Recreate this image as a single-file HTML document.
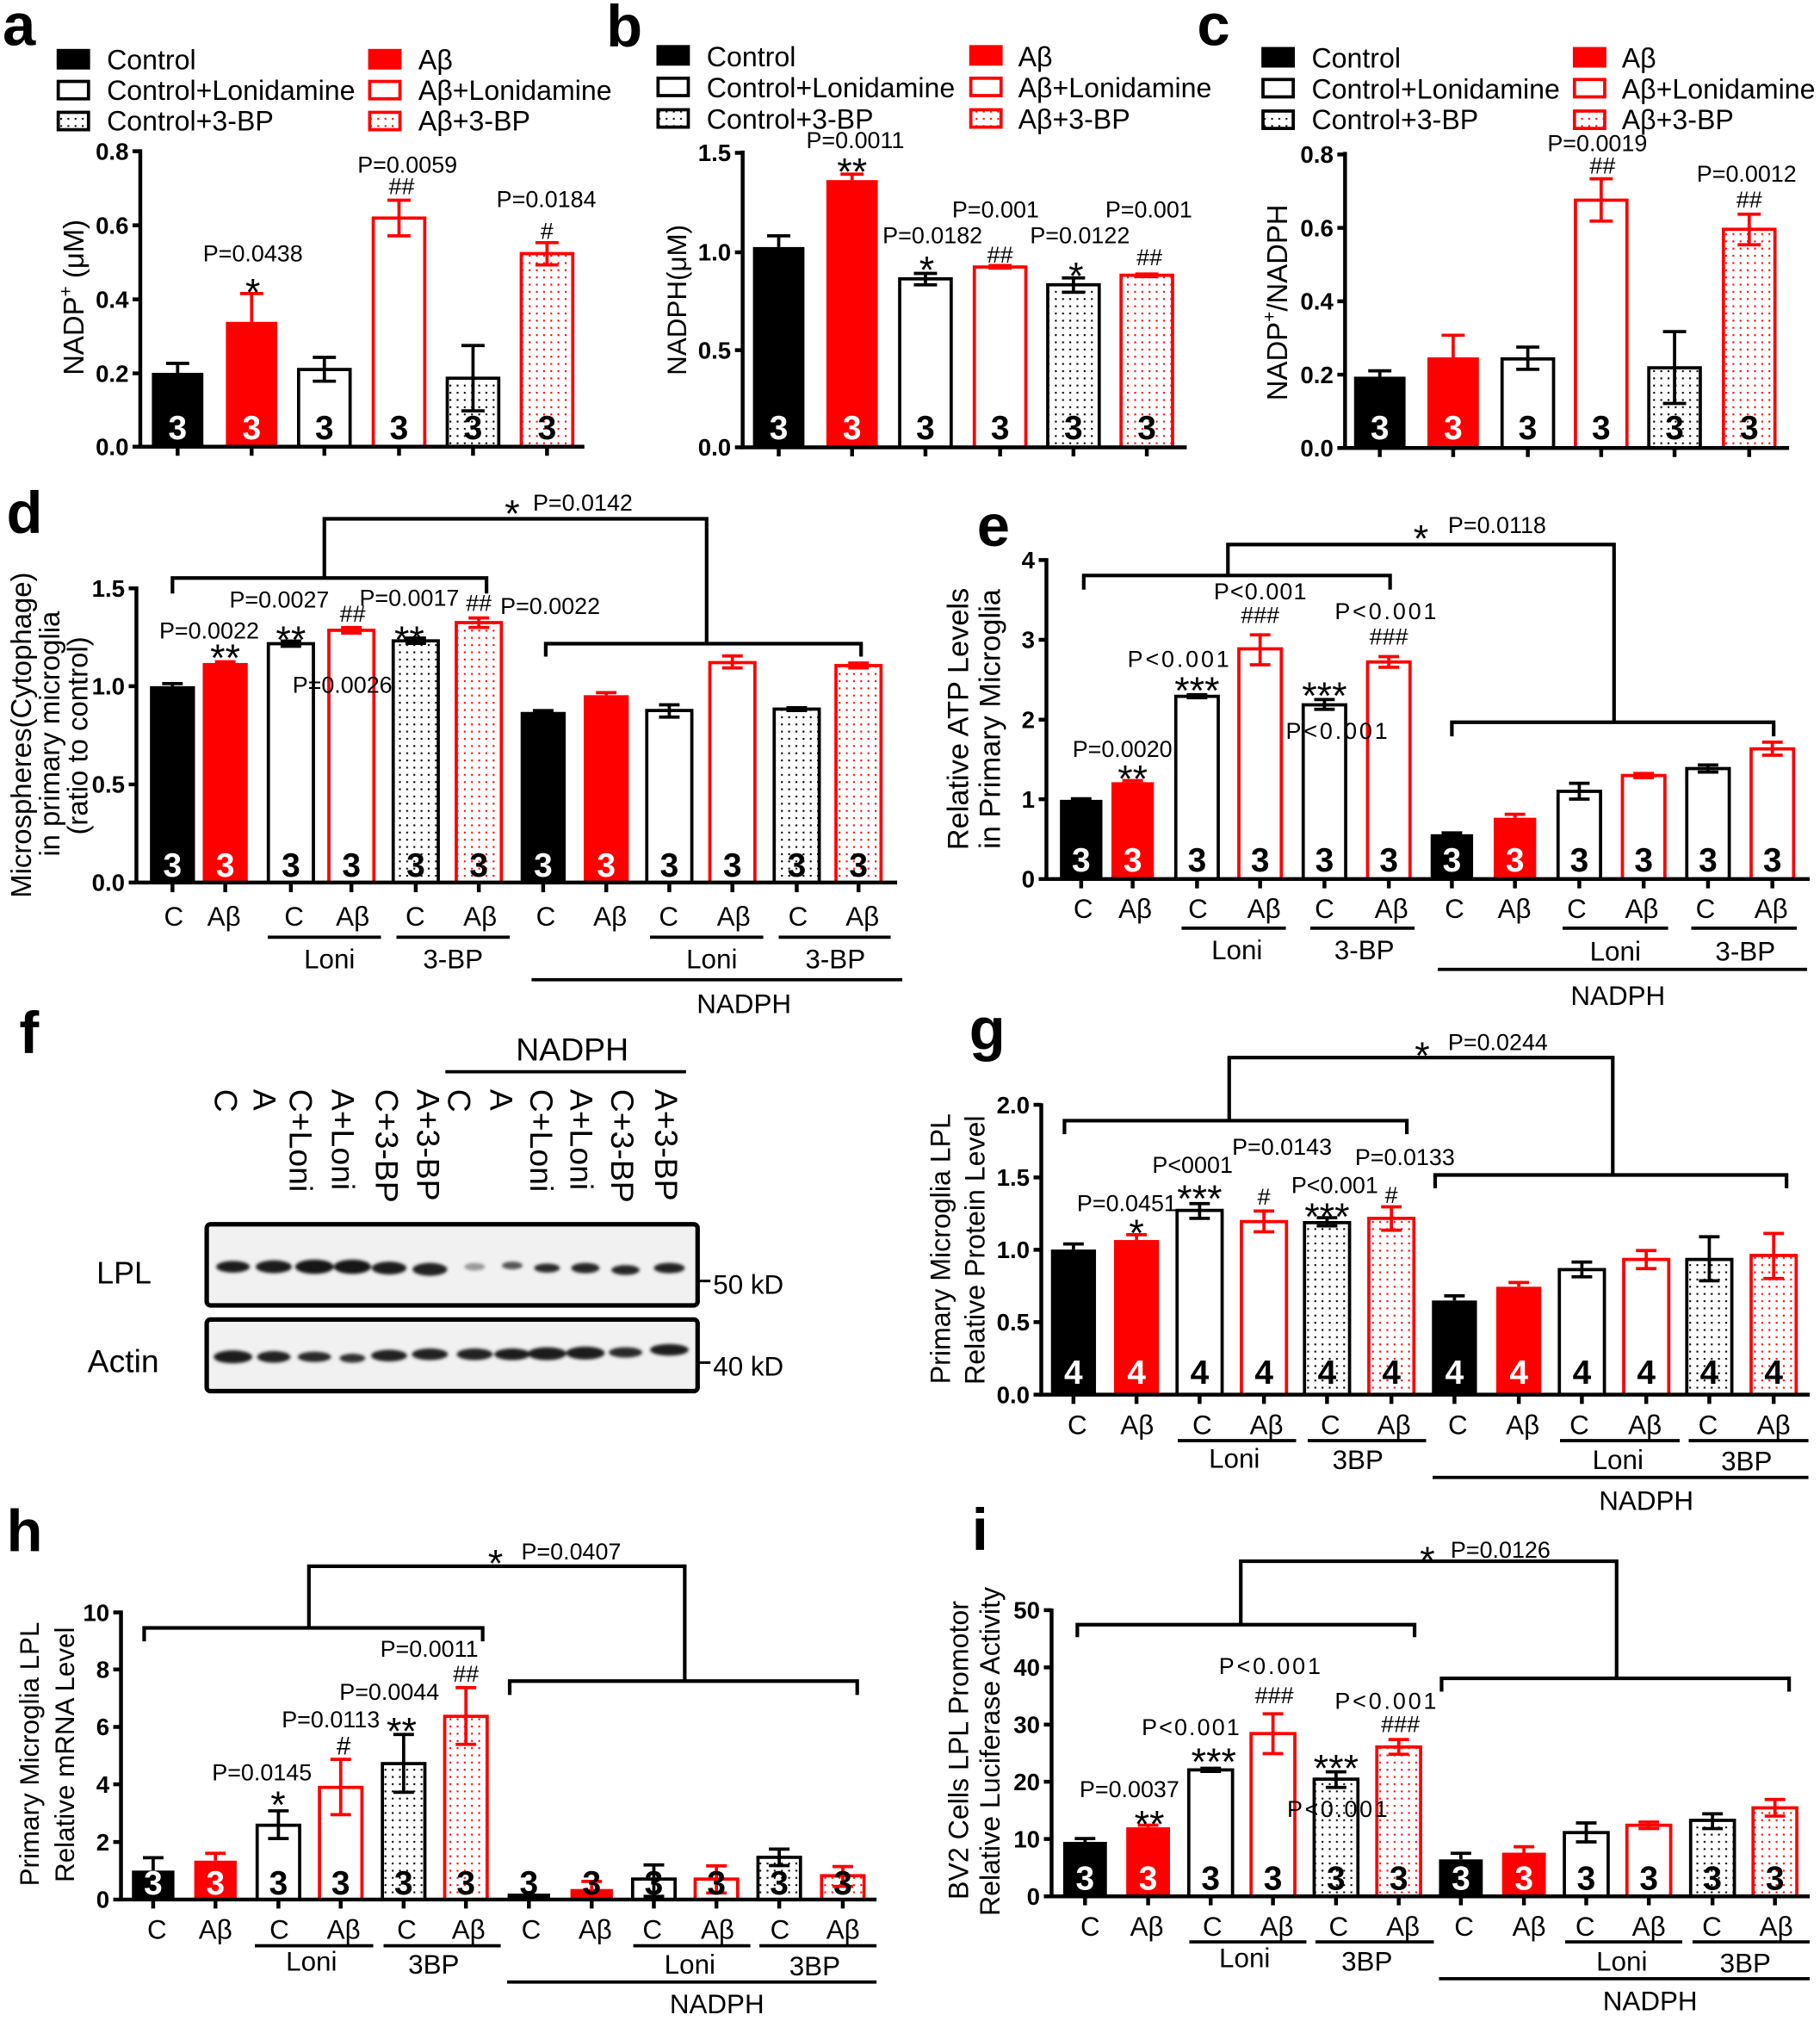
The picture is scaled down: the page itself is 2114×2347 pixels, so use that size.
<!DOCTYPE html>
<html><head><meta charset="utf-8"><style>
body{margin:0;background:#fff}
svg{display:block}
text{font-family:"Liberation Sans",Arial,sans-serif;fill:#000}
.pn{font-size:46px;font-weight:bold}
.lg{font-size:21.5px}
.tk{font-size:18.5px;font-weight:bold;text-anchor:end}
.n{font-size:26px;font-weight:bold;text-anchor:middle}
text.w{fill:#fff}
.p{font-size:18px;text-anchor:middle}
.ps{font-size:18px}
.a{font-size:30px;text-anchor:middle}
.h{font-size:18px;text-anchor:middle}
.x{font-size:21px;text-anchor:middle}
.yl{text-anchor:middle}
.ln{font-size:25px}
.k{stroke:#000;stroke-width:2.5;fill:none}
.r{stroke:#f00;stroke-width:2.5;fill:none}
.ax{stroke:#000;stroke-width:3;fill:none}
.br2{stroke:#000;stroke-width:2.8;fill:none}
.bk{fill:#000}
.bR{fill:#f00}
.wk{fill:#fff;stroke:#000;stroke-width:2.5}
.wr{fill:#fff;stroke:#f00;stroke-width:2.5}
.dk{fill:url(#dk);stroke:#000;stroke-width:2.5}
.dr{fill:url(#dr);stroke:#f00;stroke-width:2.5}
</style></head><body>
<svg width="2114" height="2347" viewBox="0 0 1414 1569.85" preserveAspectRatio="none" xmlns="http://www.w3.org/2000/svg">
<defs>
<pattern id="dk" width="5.6" height="5.6" patternUnits="userSpaceOnUse"><rect width="5.6" height="5.6" fill="#fff"/><rect x="2" y="2" width="1.4" height="1.4" fill="#000"/></pattern>
<pattern id="dr" width="5.6" height="5.6" patternUnits="userSpaceOnUse"><rect width="5.6" height="5.6" fill="#fff"/><rect x="2" y="2" width="1.4" height="1.4" fill="#f00"/></pattern>
<filter id="bl" x="-50%" y="-100%" width="200%" height="300%"><feGaussianBlur stdDeviation="1.3"/></filter>
</defs>
<rect width="1414" height="1570" fill="#fff"/>

<!-- ============ PANEL A ============ -->
<text class="pn" x="2" y="35">a</text>
<rect x="44" y="38" width="26" height="16" class="bk"/>
<text class="lg" x="83" y="54">Control</text>
<rect x="45.25" y="63.25" width="23.5" height="13.5" class="wk"/>
<text class="lg" x="83" y="77.5">Control+Lonidamine</text>
<rect x="45.25" y="87.25" width="23.5" height="13.5" class="dk"/>
<text class="lg" x="83" y="101.5">Control+3-BP</text>
<rect x="286" y="38" width="26" height="16" class="bR"/>
<text class="lg" x="325" y="54">Aβ</text>
<rect x="287.25" y="63.25" width="23.5" height="13.5" class="wr"/>
<text class="lg" x="325" y="77.5">Aβ+Lonidamine</text>
<rect x="287.25" y="87.25" width="23.5" height="13.5" class="dr"/>
<text class="lg" x="325" y="101.5">Aβ+3-BP</text>

<rect x="118" y="289.6" width="40" height="57.4" class="bk"/>
<rect x="175.5" y="250" width="40" height="97" class="bR"/>
<rect x="232" y="287" width="40" height="60" class="wk"/>
<rect x="290" y="169.4" width="40" height="177.6" class="wr"/>
<rect x="347.5" y="293.8" width="40" height="53.2" class="dk"/>
<rect x="405" y="197" width="40" height="150" class="dr"/>
<path class="k" d="M129,282.3H147M138,282.3V289.6"/>
<path class="r" d="M186.5,228H204.5M195.5,228V250"/>
<path class="k" d="M243,277.6H261M252,277.6V296.1M243,296.1H261"/>
<path class="r" d="M301,155.5H319M310,155.5V183.2M301,183.2H319"/>
<path class="k" d="M358.5,268.4H376.5M367.5,268.4V319.1M358.5,319.1H376.5"/>
<path class="r" d="M416,188.5H434M425,188.5V205.8M416,205.8H434"/>
<path class="ax" d="M109,116V347H454"/>
<path class="ax" d="M103,117.5H109M103,175H109M103,232.5H109M103,290H109M103,347H109M138,347V354M195.5,347V354M252,347V354M310,347V354M367.5,347V354M425,347V354"/>
<text class="tk" x="100" y="124">0.8</text><text class="tk" x="100" y="181.5">0.6</text><text class="tk" x="100" y="239">0.4</text><text class="tk" x="100" y="296.5">0.2</text><text class="tk" x="100" y="353.5">0.0</text>
<text class="n w" x="138" y="341">3</text><text class="n w" x="195.5" y="341">3</text><text class="n" x="252" y="341">3</text><text class="n" x="310" y="341">3</text><text class="n" x="367.5" y="341">3</text><text class="n" x="425" y="341">3</text>
<text class="p" x="196.5" y="203">P=0.0438</text>
<text class="a" x="196.5" y="237">*</text>
<text class="p" x="316.5" y="134">P=0.0059</text>
<text class="h" x="312" y="151">##</text>
<text class="p" x="424.5" y="161">P=0.0184</text>
<text class="h" x="425" y="185.5">#</text>
<text class="yl" style="font-size:22px" transform="translate(65,231) rotate(-90)">NADP<tspan dy="-9" font-size="14">+</tspan><tspan dy="9"> (μM)</tspan></text>

<!-- ============ PANEL B ============ -->
<text class="pn" x="471" y="36">b</text>
<rect x="510" y="35" width="26" height="16" class="bk"/>
<text class="lg" x="549" y="51.5">Control</text>
<rect x="511.25" y="60.75" width="23.5" height="13.5" class="wk"/>
<text class="lg" x="549" y="75.5">Control+Lonidamine</text>
<rect x="511.25" y="85.25" width="23.5" height="13.5" class="dk"/>
<text class="lg" x="549" y="100">Control+3-BP</text>
<rect x="753" y="35" width="26" height="16" class="bR"/>
<text class="lg" x="791" y="51.5">Aβ</text>
<rect x="754.25" y="60.75" width="23.5" height="13.5" class="wr"/>
<text class="lg" x="791" y="75.5">Aβ+Lonidamine</text>
<rect x="754.25" y="85.25" width="23.5" height="13.5" class="dr"/>
<text class="lg" x="791" y="100">Aβ+3-BP</text>

<rect x="585" y="191.9" width="40" height="155.6" class="bk"/>
<rect x="642" y="139.9" width="40" height="207.6" class="bR"/>
<rect x="699" y="216.6" width="40" height="130.9" class="wk"/>
<rect x="757" y="207.4" width="40" height="140.1" class="wr"/>
<rect x="814" y="221.2" width="40" height="126.3" class="dk"/>
<rect x="871" y="213.8" width="40" height="133.7" class="dr"/>
<path class="k" d="M596,183.2H614M605,183.2V191.9"/>
<path class="r" d="M653,135.3H671M662,135.3V139.9"/>
<path class="k" d="M710,212.4H728M719,212.4V221.2M710,221.2H728"/>
<rect x="768" y="205" width="18" height="4.5" fill="#f00"/>
<path class="k" d="M825,215.9H843M834,215.9V227M825,227H843"/>
<rect x="882" y="211.6" width="18" height="4.5" fill="#f00"/>
<path class="ax" d="M577,117V347.5H922"/>
<path class="ax" d="M571,118.7H577M571,196H577M571,272H577M571,347.5H577M605,347.5V354.5M662,347.5V354.5M719,347.5V354.5M777,347.5V354.5M834,347.5V354.5M891,347.5V354.5"/>
<text class="tk" x="568" y="125.2">1.5</text><text class="tk" x="568" y="202.5">1.0</text><text class="tk" x="568" y="278.5">0.5</text><text class="tk" x="568" y="354">0.0</text>
<text class="n w" x="605" y="341">3</text><text class="n w" x="662" y="341">3</text><text class="n" x="719" y="341">3</text><text class="n" x="777" y="341">3</text><text class="n" x="834" y="341">3</text><text class="n" x="891" y="341">3</text>
<text class="p" x="664.5" y="115">P=0.0011</text>
<text class="a" x="662" y="143.5">**</text>
<text class="p" x="724.5" y="189">P=0.0182</text>
<text class="a" x="720" y="219.6">*</text>
<text class="p" x="773.5" y="169">P=0.001</text>
<text class="h" x="777" y="204">##</text>
<text class="p" x="839" y="189">P=0.0122</text>
<text class="a" x="836" y="224.4">*</text>
<text class="p" x="892.5" y="169">P=0.001</text>
<text class="h" x="893" y="206">##</text>
<text class="yl" style="font-size:21px" transform="translate(533,233) rotate(-90)">NADPH(μM)</text>

<!-- ============ PANEL C ============ -->
<text class="pn" x="930" y="35">c</text>
<rect x="980" y="36.5" width="26" height="16" class="bk"/>
<text class="lg" x="1019" y="52.5">Control</text>
<rect x="981.25" y="61.75" width="23.5" height="13.5" class="wk"/>
<text class="lg" x="1019" y="76.5">Control+Lonidamine</text>
<rect x="981.25" y="86.25" width="23.5" height="13.5" class="dk"/>
<text class="lg" x="1019" y="100.5">Control+3-BP</text>
<rect x="1222" y="36.5" width="26" height="16" class="bR"/>
<text class="lg" x="1260" y="52.5">Aβ</text>
<rect x="1223.25" y="61.75" width="23.5" height="13.5" class="wr"/>
<text class="lg" x="1260" y="76.5">Aβ+Lonidamine</text>
<rect x="1223.25" y="86.25" width="23.5" height="13.5" class="dr"/>
<text class="lg" x="1260" y="100.5">Aβ+3-BP</text>

<rect x="1052" y="292.6" width="40" height="55.4" class="bk"/>
<rect x="1109" y="277.6" width="40" height="70.4" class="bR"/>
<rect x="1167" y="278.8" width="40" height="69.2" class="wk"/>
<rect x="1224" y="155.5" width="40" height="192.5" class="wr"/>
<rect x="1281" y="285.7" width="40" height="62.3" class="dk"/>
<rect x="1339" y="178.1" width="40" height="169.9" class="dr"/>
<path class="k" d="M1063,288H1081M1072,288V292.6"/>
<path class="r" d="M1120,260.4H1138M1129,260.4V277.6"/>
<path class="k" d="M1178,269.6H1196M1187,269.6V286.9M1178,286.9H1196"/>
<path class="r" d="M1235,138.9H1253M1244,138.9V171.7M1235,171.7H1253"/>
<path class="k" d="M1292,257.6H1310M1301,257.6V313.4M1292,313.4H1310"/>
<path class="r" d="M1350,166.4H1368M1359,166.4V190.1M1350,190.1H1368"/>
<path class="ax" d="M1045,118V348H1390"/>
<path class="ax" d="M1039,120H1045M1039,177H1045M1039,234H1045M1039,291H1045M1039,348H1045M1072,348V355M1129,348V355M1187,348V355M1244,348V355M1301,348V355M1359,348V355"/>
<text class="tk" x="1036" y="126.5">0.8</text><text class="tk" x="1036" y="183.5">0.6</text><text class="tk" x="1036" y="240.5">0.4</text><text class="tk" x="1036" y="297.5">0.2</text><text class="tk" x="1036" y="354.5">0.0</text>
<text class="n w" x="1072" y="341">3</text><text class="n w" x="1129" y="341">3</text><text class="n" x="1187" y="341">3</text><text class="n" x="1244" y="341">3</text><text class="n" x="1301" y="341">3</text><text class="n" x="1359" y="341">3</text>
<text class="p" x="1241" y="117.5">P=0.0019</text>
<text class="h" x="1245" y="134.8">##</text>
<text class="p" x="1357" y="141">P=0.0012</text>
<text class="h" x="1359" y="161.3">##</text>
<text class="yl" style="font-size:22px" transform="translate(1000,235) rotate(-90)">NADP<tspan dy="-9" font-size="14">+</tspan><tspan dy="9">/NADPH</tspan></text>

<!-- ============ PANEL D ============ -->
<text class="pn" x="5" y="414">d</text>
<rect x="116.5" y="533" width="35" height="152.5" class="bk"/>
<rect x="157.5" y="515" width="35" height="170.5" class="bR"/>
<rect x="208.5" y="500" width="35" height="185.5" class="wk"/>
<rect x="255.5" y="489.6" width="35" height="195.9" class="wr"/>
<rect x="305.5" y="497.8" width="35" height="187.7" class="dk"/>
<rect x="354.5" y="483.6" width="35" height="201.9" class="dr"/>
<rect x="404.5" y="553" width="35" height="132.5" class="bk"/>
<rect x="453.5" y="540" width="35" height="145.5" class="bR"/>
<rect x="502.5" y="551.9" width="35" height="133.6" class="wk"/>
<rect x="551.5" y="514.7" width="35" height="170.8" class="wr"/>
<rect x="601.5" y="550.8" width="35" height="134.7" class="dk"/>
<rect x="649.5" y="517" width="35" height="168.5" class="dr"/>
<path class="k" d="M126,531H142M134,531V533"/>
<path class="r" d="M167,514H183M175,514V515"/>
<path class="k" d="M218,498H234M226,498V502M218,502H234"/>
<path class="r" d="M265,487.4H281M273,487.4V491.8M265,491.8H281"/>
<path class="k" d="M315,495.6H331M323,495.6V499.7M315,499.7H331"/>
<path class="r" d="M364,480H380M372,480V487.4M364,487.4H380"/>
<path class="k" d="M414,552H430"/>
<path class="r" d="M463,538H479M471,538V540"/>
<path class="k" d="M512,547.5H528M520,547.5V557M512,557H528"/>
<path class="r" d="M561,509.5H577M569,509.5V518.8M561,518.8H577"/>
<path class="k" d="M611,549.7H627M619,549.7V551.9M611,551.9H627"/>
<path class="r" d="M659,515H675M667,515V518.8M659,518.8H675"/>
<path class="ax" d="M106,455.5V685.5H697"/>
<path class="ax" d="M100,457H106M100,533H106M100,609.3H106M100,685.5H106M134,685.5V693M175,685.5V693M226,685.5V693M273,685.5V693M323,685.5V693M372,685.5V693M422,685.5V693M471,685.5V693M520,685.5V693M569,685.5V693M619,685.5V693M667,685.5V693"/>
<text class="tk" x="97" y="463.5">1.5</text><text class="tk" x="97" y="539.5">1.0</text><text class="tk" x="97" y="615.8">0.5</text><text class="tk" x="97" y="692">0.0</text>
<text class="n w" x="134" y="681">3</text><text class="n w" x="175" y="681">3</text><text class="n" x="226" y="681">3</text><text class="n" x="273" y="681">3</text><text class="n" x="323" y="681">3</text><text class="n" x="372" y="681">3</text><text class="n w" x="422" y="681">3</text><text class="n w" x="471" y="681">3</text><text class="n" x="520" y="681">3</text><text class="n" x="569" y="681">3</text><text class="n" x="619" y="681">3</text><text class="n" x="667" y="681">3</text>
<path class="br2" d="M134,461V449H378V461M252,449V403H549V500M424,510V500H669V510"/>
<text class="a" x="398" y="409">*</text>
<text class="ps" x="414" y="396.7">P=0.0142</text>
<text class="p" x="162.5" y="496">P=0.0022</text>
<text class="a" x="175" y="521">**</text>
<text class="p" x="217" y="472">P=0.0027</text>
<text class="a" x="226" y="507">**</text>
<text class="h" x="274" y="483">##</text>
<text class="p" x="318" y="470.5">P=0.0017</text>
<text class="a" x="318" y="507">**</text>
<text class="h" x="372" y="474.5">##</text>
<text class="p" x="427.5" y="477">P=0.0022</text>
<text class="p" x="266" y="538">P=0.0026</text>
<text class="x" x="135" y="719">C</text><text class="x" x="174" y="719">Aβ</text><text class="x" x="228.5" y="719">C</text><text class="x" x="274" y="719">Aβ</text><text class="x" x="322.6" y="719">C</text><text class="x" x="373" y="719">Aβ</text><text class="x" x="424" y="719">C</text><text class="x" x="474" y="719">Aβ</text><text class="x" x="519.5" y="719">C</text><text class="x" x="570" y="719">Aβ</text><text class="x" x="620" y="719">C</text><text class="x" x="670" y="719">Aβ</text>
<path class="k" d="M208,728H296M308,728H396M505,728H593M605,728H692M413,761H701"/>
<text class="x" x="256" y="752">Loni</text><text class="x" x="352" y="752">3-BP</text><text class="x" x="553" y="752">Loni</text><text class="x" x="649" y="752">3-BP</text>
<text class="x" x="578" y="787">NADPH</text>
<text class="yl" style="font-size:22px" transform="translate(24,571) rotate(-90)">Microspheres(Cytophage)</text>
<text class="yl" style="font-size:22px" transform="translate(46,570) rotate(-90)">in primary microglia</text>
<text class="yl" style="font-size:22px" transform="translate(68,571.5) rotate(-90)">(ratio to control)</text>

<!-- ============ PANEL E ============ -->
<text class="pn" x="759" y="424">e</text>
<rect x="823.5" y="621.3" width="33" height="61.5" class="bk"/>
<rect x="863.5" y="607.6" width="33" height="75.2" class="bR"/>
<rect x="913.5" y="540.9" width="33" height="141.9" class="wk"/>
<rect x="962.5" y="504" width="33" height="178.8" class="wr"/>
<rect x="1012.5" y="547.5" width="33" height="135.3" class="wk"/>
<rect x="1062.5" y="514.2" width="33" height="168.6" class="wr"/>
<rect x="1111.5" y="648" width="33" height="34.8" class="bk"/>
<rect x="1160.5" y="635.2" width="33" height="47.6" class="bR"/>
<rect x="1210.5" y="614.7" width="33" height="68.1" class="wk"/>
<rect x="1260.5" y="602.4" width="33" height="80.4" class="wr"/>
<rect x="1310.5" y="597" width="33" height="85.8" class="wk"/>
<rect x="1360.5" y="581.7" width="33" height="101.1" class="wr"/>
<path class="k" d="M832,620.5H848"/>
<path class="r" d="M872,606.3H888M880,606.3V607.6"/>
<path class="k" d="M922,539.6H938M930,539.6V542M922,542H938"/>
<path class="r" d="M971,493.1H987M979,493.1V516.4M971,516.4H987"/>
<path class="k" d="M1021,543.4H1037M1029,543.4V551M1021,551H1037"/>
<path class="r" d="M1071,510H1087M1079,510V518.3M1071,518.3H1087"/>
<path class="k" d="M1120,647H1136"/>
<path class="r" d="M1169,632.5H1185M1177,632.5V635.2"/>
<path class="k" d="M1219,608.4H1235M1227,608.4V620.7M1219,620.7H1235"/>
<path class="r" d="M1269,600.8H1285M1277,600.8V604M1269,604H1285"/>
<path class="k" d="M1319,594.2H1335M1327,594.2V599.7M1319,599.7H1335"/>
<path class="r" d="M1369,576.5H1385M1377,576.5V586.6M1369,586.6H1385"/>
<path class="ax" d="M813,433.5V682.8H1406"/>
<path class="ax" d="M807,435H813M807,497H813M807,559H813M807,620.8H813M807,682.8H813M840,682.8V690M880,682.8V690M930,682.8V690M979,682.8V690M1029,682.8V690M1079,682.8V690M1128,682.8V690M1177,682.8V690M1227,682.8V690M1277,682.8V690M1327,682.8V690M1377,682.8V690"/>
<text class="tk" x="804" y="441.5">4</text><text class="tk" x="804" y="503.5">3</text><text class="tk" x="804" y="565.5">2</text><text class="tk" x="804" y="627.3">1</text><text class="tk" x="804" y="689.3">0</text>
<text class="n w" x="840" y="677">3</text><text class="n w" x="880" y="677">3</text><text class="n" x="930" y="677">3</text><text class="n" x="979" y="677">3</text><text class="n" x="1029" y="677">3</text><text class="n" x="1079" y="677">3</text><text class="n w" x="1128" y="677">3</text><text class="n w" x="1177" y="677">3</text><text class="n" x="1227" y="677">3</text><text class="n" x="1277" y="677">3</text><text class="n" x="1327" y="677">3</text><text class="n" x="1377" y="677">3</text>
<path class="br2" d="M842,458V447H1080V458M954,447V423H1254V561M1128,572V561H1378V572"/>
<text class="a" x="1104" y="428.5">*</text>
<text class="ps" x="1125" y="414">P=0.0118</text>
<text class="p" x="872" y="588">P=0.0020</text>
<text class="a" x="880" y="615">**</text>
<text class="p" x="915.5" y="518" textLength="79" lengthAdjust="spacing">P&lt;0.001</text>
<text class="a" x="930" y="546.5">***</text>
<text class="p" x="979" y="465.5" textLength="72" lengthAdjust="spacing">P&lt;0.001</text>
<text class="h" x="979" y="484">###</text>
<text class="p" x="1076.5" y="481" textLength="79" lengthAdjust="spacing">P&lt;0.001</text>
<text class="h" x="1079" y="500.5">###</text>
<text class="a" x="1029" y="550.5">***</text>
<text class="p" x="1038.5" y="574" textLength="79" lengthAdjust="spacing">P&lt;0.001</text>
<text class="x" x="841.6" y="713">C</text><text class="x" x="882" y="713">Aβ</text><text class="x" x="930.7" y="713">C</text><text class="x" x="982" y="713">Aβ</text><text class="x" x="1029" y="713">C</text><text class="x" x="1081" y="713">Aβ</text><text class="x" x="1130" y="713">C</text><text class="x" x="1176.6" y="713">Aβ</text><text class="x" x="1225" y="713">C</text><text class="x" x="1275.5" y="713">Aβ</text><text class="x" x="1325" y="713">C</text><text class="x" x="1376" y="713">Aβ</text>
<path class="k" d="M918,721H999M1018,721H1099M1214,721H1296M1314,721H1396M1117,753H1404"/>
<text class="x" x="961" y="745">Loni</text><text class="x" x="1060" y="745">3-BP</text><text class="x" x="1255" y="746">Loni</text><text class="x" x="1356" y="746">3-BP</text>
<text class="x" x="1257" y="780.5">NADPH</text>
<text class="yl" style="font-size:23px" transform="translate(752,558.5) rotate(-90)">Relative ATP Levels</text>
<text class="yl" style="font-size:23px" transform="translate(777,558.5) rotate(-90)">in Primary Microglia</text>

<!-- ============ PANEL F ============ -->
<text class="pn" x="15" y="818">f</text>
<text x="444.6" y="823.6" style="font-size:25px;text-anchor:middle">NADPH</text>
<path class="k" d="M346,832.5H533"/>
<text class="ln" transform="translate(167,846) rotate(90)">C</text>
<text class="ln" transform="translate(197,846) rotate(90)">A</text>
<text class="ln" transform="translate(225,846) rotate(90)">C+Loni</text>
<text class="ln" transform="translate(258,846) rotate(90)">A+Loni</text>
<text class="ln" transform="translate(292,846) rotate(90)">C+3-BP</text>
<text class="ln" transform="translate(324,846) rotate(90)">A+3-BP</text>
<text class="ln" transform="translate(348,846) rotate(90)">C</text>
<text class="ln" transform="translate(381,846) rotate(90)">A</text>
<text class="ln" transform="translate(412,846) rotate(90)">C+Loni</text>
<text class="ln" transform="translate(443,846) rotate(90)">A+Loni</text>
<text class="ln" transform="translate(475,846) rotate(90)">C+3-BP</text>
<text class="ln" transform="translate(509,846) rotate(90)">A+3-BP</text>
<rect x="160.6" y="951" width="381.4" height="63" rx="3" fill="#f1f1f1" stroke="#000" stroke-width="3.5"/>
<rect x="160.6" y="1025" width="381.4" height="55.6" rx="3" fill="#f1f1f1" stroke="#000" stroke-width="3.5"/>
<g filter="url(#bl)">
<ellipse cx="181" cy="984" rx="13" ry="4.5" fill="#1c1c1c"/>
<ellipse cx="212.7" cy="984" rx="14" ry="5" fill="#1a1a1a"/>
<ellipse cx="244.3" cy="984" rx="15" ry="5.5" fill="#151515"/>
<ellipse cx="273.8" cy="984" rx="14.5" ry="5.5" fill="#181818"/>
<ellipse cx="302.3" cy="985" rx="13.5" ry="5" fill="#1e1e1e"/>
<ellipse cx="334" cy="986" rx="13.5" ry="5" fill="#202020"/>
<ellipse cx="368.8" cy="984" rx="8" ry="3" fill="#9a9a9a"/>
<ellipse cx="398" cy="983" rx="8" ry="3" fill="#555"/>
<ellipse cx="425" cy="985" rx="10" ry="3.5" fill="#2a2a2a"/>
<ellipse cx="454.8" cy="985" rx="11" ry="4" fill="#252525"/>
<ellipse cx="486" cy="986.5" rx="11" ry="3.8" fill="#262626"/>
<ellipse cx="520" cy="985" rx="12" ry="4" fill="#222"/>
<ellipse cx="181" cy="1054" rx="15" ry="5" fill="#1a1a1a"/>
<ellipse cx="212.7" cy="1054" rx="13" ry="4.5" fill="#222"/>
<ellipse cx="244.3" cy="1054" rx="13" ry="4" fill="#2a2a2a"/>
<ellipse cx="273.8" cy="1055" rx="10" ry="3.5" fill="#333"/>
<ellipse cx="302.3" cy="1053" rx="14" ry="4.5" fill="#222"/>
<ellipse cx="334" cy="1052" rx="14" ry="4.5" fill="#222"/>
<ellipse cx="368.8" cy="1052" rx="14" ry="4.5" fill="#222"/>
<ellipse cx="398" cy="1052" rx="14" ry="4.5" fill="#1e1e1e"/>
<ellipse cx="425" cy="1051.5" rx="15" ry="5" fill="#1a1a1a"/>
<ellipse cx="454.8" cy="1051" rx="15" ry="5" fill="#1c1c1c"/>
<ellipse cx="486" cy="1050.5" rx="13" ry="4" fill="#2a2a2a"/>
<ellipse cx="520" cy="1048.5" rx="15" ry="4.5" fill="#1c1c1c"/>
</g>
<text x="75" y="997" style="font-size:24px">LPL</text>
<text x="68" y="1066" style="font-size:25px">Actin</text>
<path class="k" d="M543,995H552M543,1058.4H552" style="stroke-width:2"/>
<text x="554" y="1005" style="font-size:21px">50 kD</text>
<text x="554" y="1068.5" style="font-size:21px">40 kD</text>

<!-- ============ PANEL G ============ -->
<text class="pn" x="753" y="815">g</text>
<rect x="816.5" y="970.6" width="35" height="112.7" class="bk"/>
<rect x="865.5" y="963.2" width="35" height="120.1" class="bR"/>
<rect x="914.5" y="940.2" width="35" height="143.1" class="wk"/>
<rect x="964.5" y="948.9" width="35" height="134.4" class="wr"/>
<rect x="1013.5" y="949.7" width="35" height="133.6" class="dk"/>
<rect x="1063.5" y="946.4" width="35" height="136.9" class="dr"/>
<rect x="1112.5" y="1010.2" width="35" height="73.1" class="bk"/>
<rect x="1162.5" y="999.5" width="35" height="83.8" class="bR"/>
<rect x="1211.5" y="986.2" width="35" height="97.1" class="wk"/>
<rect x="1261.5" y="978.3" width="35" height="105" class="wr"/>
<rect x="1310.5" y="978.3" width="35" height="105" class="dk"/>
<rect x="1360.5" y="975.2" width="35" height="108.1" class="dr"/>
<path class="k" d="M826,966.3H842M834,966.3V970.6"/>
<path class="r" d="M875,959.1H891M883,959.1V963.2"/>
<path class="k" d="M924,934.9H940M932,934.9V946.4M924,946.4H940"/>
<path class="r" d="M974,940.7H990M982,940.7V956.8M974,956.8H990"/>
<path class="k" d="M1023,945.9H1039M1031,945.9V952.2M1023,952.2H1039"/>
<path class="r" d="M1073,937.4H1089M1081,937.4V955.6M1073,955.6H1089"/>
<path class="k" d="M1122,1006.6H1138M1130,1006.6V1010.2"/>
<path class="r" d="M1172,996.2H1188M1180,996.2V999.5"/>
<path class="k" d="M1221,980.3H1237M1229,980.3V991.8M1221,991.8H1237"/>
<path class="r" d="M1271,971.4H1287M1279,971.4V985.4M1271,985.4H1287"/>
<path class="k" d="M1320,960.7H1336M1328,960.7V994.9M1320,994.9H1336"/>
<path class="r" d="M1370,958.1H1386M1378,958.1V993.1M1370,993.1H1386"/>
<path class="ax" d="M809,857V1083.3H1406"/>
<path class="ax" d="M803,858.2H809M803,914.6H809M803,970.8H809M803,1027H809M803,1083.3H809M834,1083.3V1090.5M883,1083.3V1090.5M932,1083.3V1090.5M982,1083.3V1090.5M1031,1083.3V1090.5M1081,1083.3V1090.5M1130,1083.3V1090.5M1180,1083.3V1090.5M1229,1083.3V1090.5M1279,1083.3V1090.5M1328,1083.3V1090.5M1378,1083.3V1090.5"/>
<text class="tk" x="800" y="864.7">2.0</text><text class="tk" x="800" y="921.1">1.5</text><text class="tk" x="800" y="977.3">1.0</text><text class="tk" x="800" y="1033.5">0.5</text><text class="tk" x="800" y="1089.8">0.0</text>
<text class="n w" x="834" y="1075">4</text><text class="n w" x="883" y="1075">4</text><text class="n" x="932" y="1075">4</text><text class="n" x="982" y="1075">4</text><text class="n" x="1031" y="1075">4</text><text class="n" x="1081" y="1075">4</text><text class="n w" x="1130" y="1075">4</text><text class="n w" x="1180" y="1075">4</text><text class="n" x="1229" y="1075">4</text><text class="n" x="1279" y="1075">4</text><text class="n" x="1328" y="1075">4</text><text class="n" x="1378" y="1075">4</text>
<path class="br2" d="M827,881V870.5H1093V881M955,870.5V821.5H1253V912.7M1115,923V912.7H1388V923"/>
<text class="a" x="1105" y="830">*</text>
<text class="ps" x="1125" y="815.6">P=0.0244</text>
<text class="p" x="875.5" y="940.7">P=0.0451</text>
<text class="a" x="883" y="968">*</text>
<text class="p" x="926.5" y="911">P&lt;0001</text>
<text class="a" x="932" y="941">***</text>
<text class="p" x="996" y="897">P=0.0143</text>
<text class="h" x="982" y="935.6">#</text>
<text class="p" x="1037" y="926.7">P&lt;0.001</text>
<text class="a" x="1031" y="955">***</text>
<text class="h" x="1081" y="934.4">#</text>
<text class="p" x="1091.5" y="905">P=0.0133</text>
<text class="x" x="837" y="1114">C</text><text class="x" x="883.5" y="1114">Aβ</text><text class="x" x="934" y="1114">C</text><text class="x" x="984" y="1114">Aβ</text><text class="x" x="1033.6" y="1114">C</text><text class="x" x="1083" y="1114">Aβ</text><text class="x" x="1132.6" y="1114">C</text><text class="x" x="1183" y="1114">Aβ</text><text class="x" x="1227" y="1114">C</text><text class="x" x="1278" y="1114">Aβ</text><text class="x" x="1327" y="1114">C</text><text class="x" x="1378" y="1114">Aβ</text>
<path class="k" d="M915,1119H1007M1016,1119H1108M1212,1119H1305M1312,1119H1405M1113,1147.6H1405"/>
<text class="x" x="959" y="1140">Loni</text><text class="x" x="1055" y="1141">3BP</text><text class="x" x="1257" y="1141">Loni</text><text class="x" x="1357" y="1142">3BP</text>
<text class="x" x="1279" y="1173">NADPH</text>
<text class="yl" style="font-size:21.5px" transform="translate(738,970) rotate(-90)">Primary Microglia LPL</text>
<text class="yl" style="font-size:21.5px" transform="translate(765,971) rotate(-90)">Relative Protein Level</text>

<!-- ============ PANEL H ============ -->
<text class="pn" x="5" y="1205">h</text>
<rect x="102.5" y="1453" width="33" height="22.5" class="bk"/>
<rect x="150.9" y="1445.3" width="33" height="30.2" class="bR"/>
<rect x="199.8" y="1417.8" width="33" height="57.7" class="wk"/>
<rect x="248.2" y="1388.4" width="33" height="87.1" class="wr"/>
<rect x="297.1" y="1369.9" width="33" height="105.6" class="dk"/>
<rect x="345.5" y="1333.2" width="33" height="142.3" class="dr"/>
<rect x="394.4" y="1470.9" width="33" height="4.6" class="bk"/>
<rect x="443.2" y="1467.3" width="33" height="8.2" class="bR"/>
<rect x="491.5" y="1459.6" width="33" height="15.9" class="wk"/>
<rect x="540.1" y="1459.6" width="33" height="15.9" class="wr"/>
<rect x="588.9" y="1442.7" width="33" height="32.8" class="dk"/>
<rect x="638.3" y="1457" width="33" height="18.5" class="dr"/>
<path class="k" d="M111,1443H127M119,1443V1453"/>
<path class="r" d="M159.4,1439.6H175.4M167.4,1439.6V1445.3"/>
<path class="k" d="M208.3,1406.6H224.3M216.3,1406.6V1428.1M208.3,1428.1H224.3"/>
<path class="r" d="M256.7,1366.6H272.7M264.7,1366.6V1409.6M256.7,1409.6H272.7"/>
<path class="k" d="M305.6,1347.3H321.6M313.6,1347.3V1392.2M305.6,1392.2H321.6"/>
<path class="r" d="M354,1310.9H370M362,1310.9V1355M354,1355H370"/>
<path class="r" d="M451.7,1461.4H467.7M459.7,1461.4V1467.3"/>
<path class="k" d="M500,1448.6H516M508,1448.6V1473M500,1473H516"/>
<path class="r" d="M548.6,1449.4H564.6M556.6,1449.4V1470.4M548.6,1470.4H564.6"/>
<path class="k" d="M597.4,1436.3H613.4M605.4,1436.3V1449.1M597.4,1449.1H613.4"/>
<path class="r" d="M646.8,1449.9H662.8M654.8,1449.9V1465.3M646.8,1465.3H662.8"/>
<path class="ax" d="M94,1251V1475.5H681"/>
<path class="ax" d="M88,1252.5H94M88,1296.8H94M88,1341.4H94M88,1386H94M88,1430.8H94M88,1475.5H94M119,1475.5V1482.5M167.4,1475.5V1482.5M216.3,1475.5V1482.5M264.7,1475.5V1482.5M313.6,1475.5V1482.5M362,1475.5V1482.5M410.9,1475.5V1482.5M459.7,1475.5V1482.5M508,1475.5V1482.5M556.6,1475.5V1482.5M605.4,1475.5V1482.5M654.8,1475.5V1482.5"/>
<text class="tk" x="85" y="1259">10</text><text class="tk" x="85" y="1303.3">8</text><text class="tk" x="85" y="1347.9">6</text><text class="tk" x="85" y="1392.5">4</text><text class="tk" x="85" y="1437.3">2</text><text class="tk" x="85" y="1482">0</text>
<text class="n w" x="119" y="1471.7">3</text><text class="n w" x="167.4" y="1471.7">3</text><text class="n" x="216.3" y="1471.7">3</text><text class="n" x="264.7" y="1471.7">3</text><text class="n" x="313.6" y="1471.7">3</text><text class="n" x="362" y="1471.7">3</text><text class="n" x="410.9" y="1471.7">3</text><text class="n" x="459.7" y="1471.7">3</text><text class="n" x="508" y="1471.7">3</text><text class="n" x="556.6" y="1471.7">3</text><text class="n" x="605.4" y="1471.7">3</text><text class="n" x="654.8" y="1471.7">3</text>
<path class="br2" d="M112,1275V1264.5H375V1275M240,1264.5V1216.6H532V1305.8M396,1316.6V1305.8H666V1316.6"/>
<text class="a" x="385" y="1224.5">*</text>
<text class="ps" x="405" y="1211.4">P=0.0407</text>
<text class="p" x="203.5" y="1383">P=0.0145</text>
<text class="a" x="216" y="1412">*</text>
<text class="p" x="257" y="1341.7">P=0.0113</text>
<text class="h" x="267" y="1362.7" style="font-size:20px">#</text>
<text class="a" x="312" y="1354.7">**</text>
<text class="p" x="302.5" y="1320.4">P=0.0044</text>
<text class="h" x="362" y="1306.3">##</text>
<text class="p" x="333.5" y="1287">P=0.0011</text>
<text class="x" x="122" y="1506">C</text><text class="x" x="167.4" y="1506">Aβ</text><text class="x" x="217" y="1506">C</text><text class="x" x="267" y="1506">Aβ</text><text class="x" x="316" y="1506">C</text><text class="x" x="364" y="1506">Aβ</text><text class="x" x="412.7" y="1506">C</text><text class="x" x="462.4" y="1506">Aβ</text><text class="x" x="506.8" y="1506">C</text><text class="x" x="557.5" y="1506">Aβ</text><text class="x" x="606" y="1506">C</text><text class="x" x="655" y="1506">Aβ</text>
<path class="k" d="M198,1511.4H290M298,1511.4H389M492,1511.4H583M590,1511.4H681M394,1539.6H681"/>
<text class="x" x="242" y="1530.7">Loni</text><text class="x" x="337" y="1533">3BP</text><text class="x" x="536" y="1533">Loni</text><text class="x" x="633" y="1534.5">3BP</text>
<text class="x" x="557" y="1564">NADPH</text>
<text class="yl" style="font-size:21px" transform="translate(30,1362.5) rotate(-90)">Primary Microglia LPL</text>
<text class="yl" style="font-size:21px" transform="translate(57.5,1363) rotate(-90)">Relative mRNA Level</text>

<!-- ============ PANEL I ============ -->
<text class="pn" x="755" y="1204">i</text>
<rect x="826" y="1430.7" width="34" height="42.3" class="bk"/>
<rect x="875" y="1419.4" width="34" height="53.6" class="bR"/>
<rect x="923.6" y="1374.8" width="34" height="98.2" class="wk"/>
<rect x="972" y="1346.6" width="34" height="126.4" class="wr"/>
<rect x="1021" y="1382" width="34" height="91" class="dk"/>
<rect x="1069.7" y="1357" width="34" height="116" class="dr"/>
<rect x="1118" y="1444.3" width="34" height="28.7" class="bk"/>
<rect x="1167" y="1439.1" width="34" height="33.9" class="bR"/>
<rect x="1215.4" y="1423.5" width="34" height="49.5" class="wk"/>
<rect x="1264" y="1417.8" width="34" height="55.2" class="wr"/>
<rect x="1313.5" y="1414" width="34" height="59" class="dk"/>
<rect x="1362" y="1404.3" width="34" height="68.7" class="dr"/>
<path class="k" d="M835,1428.1H851M843,1428.1V1430.7"/>
<path class="r" d="M884,1417.8H900M892,1417.8V1419.4"/>
<path class="k" d="M932.6,1373.5H948.6M940.6,1373.5V1376M932.6,1376H948.6"/>
<path class="r" d="M981,1331.2H997M989,1331.2V1362.2M981,1362.2H997"/>
<path class="k" d="M1030,1376.3H1046M1038,1376.3V1388.4M1030,1388.4H1046"/>
<path class="r" d="M1078.7,1351.2H1094.7M1086.7,1351.2V1362.7M1078.7,1362.7H1094.7"/>
<path class="k" d="M1127,1439.6H1143M1135,1439.6V1444.3"/>
<path class="r" d="M1176,1434.5H1192M1184,1434.5V1439.1"/>
<path class="k" d="M1224.4,1416H1240.4M1232.4,1416V1430.7M1224.4,1430.7H1240.4"/>
<path class="r" d="M1273,1415.3H1289M1281,1415.3V1420.4M1273,1420.4H1289"/>
<path class="k" d="M1322.5,1408.9H1338.5M1330.5,1408.9V1420.4M1322.5,1420.4H1338.5"/>
<path class="r" d="M1371,1397.8H1387M1379,1397.8V1410.7M1371,1410.7H1387"/>
<path class="ax" d="M817,1249.5V1473H1406"/>
<path class="ax" d="M811,1250.7H817M811,1295.2H817M811,1339.6H817M811,1384H817M811,1428.5H817M811,1473H817M843,1473V1480M892,1473V1480M940.6,1473V1480M989,1473V1480M1038,1473V1480M1086.7,1473V1480M1135,1473V1480M1184,1473V1480M1232.4,1473V1480M1281,1473V1480M1330.5,1473V1480M1379,1473V1480"/>
<text class="tk" x="808" y="1257.2">50</text><text class="tk" x="808" y="1301.7">40</text><text class="tk" x="808" y="1346.1">30</text><text class="tk" x="808" y="1390.5">20</text><text class="tk" x="808" y="1435">10</text><text class="tk" x="808" y="1479.5">0</text>
<text class="n w" x="843" y="1468">3</text><text class="n w" x="892" y="1468">3</text><text class="n" x="940.6" y="1468">3</text><text class="n" x="989" y="1468">3</text><text class="n" x="1038" y="1468">3</text><text class="n" x="1086.7" y="1468">3</text><text class="n w" x="1135" y="1468">3</text><text class="n w" x="1184" y="1468">3</text><text class="n" x="1232.4" y="1468">3</text><text class="n" x="1281" y="1468">3</text><text class="n" x="1330.5" y="1468">3</text><text class="n" x="1379" y="1468">3</text>
<path class="br2" d="M837,1271.7V1262H1099V1271.7M964,1262V1212.7H1256V1303.7M1120,1314V1303.7H1390V1314"/>
<text class="a" x="1109" y="1222">*</text>
<text class="ps" x="1127" y="1210">P=0.0126</text>
<text class="p" x="877.5" y="1396">P=0.0037</text>
<text class="a" x="893" y="1427">**</text>
<text class="p" x="925" y="1347.8" textLength="76" lengthAdjust="spacing">P&lt;0.001</text>
<text class="a" x="943" y="1378.5">***</text>
<text class="p" x="986.5" y="1300.4" textLength="79" lengthAdjust="spacing">P&lt;0.001</text>
<text class="h" x="990" y="1323">###</text>
<text class="p" x="1076.5" y="1327.3" textLength="79" lengthAdjust="spacing">P&lt;0.001</text>
<text class="h" x="1088" y="1345.5">###</text>
<text class="a" x="1038" y="1383.5">***</text>
<text class="p" x="1039" y="1411.4" textLength="78" lengthAdjust="spacing">P&lt;0.001</text>
<text class="x" x="847" y="1503.7">C</text><text class="x" x="891" y="1503.7">Aβ</text><text class="x" x="942" y="1503.7">C</text><text class="x" x="992" y="1503.7">Aβ</text><text class="x" x="1040" y="1503.7">C</text><text class="x" x="1090" y="1503.7">Aβ</text><text class="x" x="1137.5" y="1503.7">C</text><text class="x" x="1188" y="1503.7">Aβ</text><text class="x" x="1231.5" y="1503.7">C</text><text class="x" x="1281" y="1503.7">Aβ</text><text class="x" x="1330" y="1503.7">C</text><text class="x" x="1380" y="1503.7">Aβ</text>
<path class="k" d="M924,1508.4H1015M1022,1508.4H1114M1216,1508.4H1307M1315,1508.4H1406M1118,1537H1406"/>
<text class="x" x="967" y="1528">Loni</text><text class="x" x="1062" y="1530.7">3BP</text><text class="x" x="1260" y="1530.7">Loni</text><text class="x" x="1356" y="1532">3BP</text>
<text class="x" x="1282" y="1561.4">NADPH</text>
<text class="yl" style="font-size:21.5px" transform="translate(752,1359.5) rotate(-90)">BV2 Cells LPL Promotor</text>
<text class="yl" style="font-size:21.5px" transform="translate(776.5,1360.5) rotate(-90)">Relative Luciferase Activity</text>
</svg>
</body></html>
